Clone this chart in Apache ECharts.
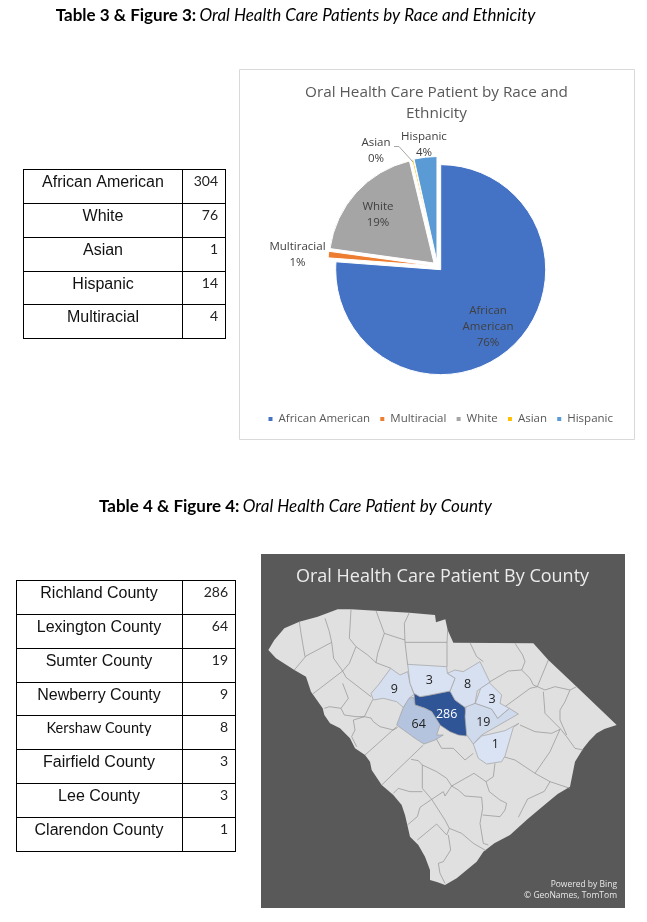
<!DOCTYPE html>
<html>
<head>
<meta charset="utf-8">
<title>Oral Health Care Patients</title>
<script src="https://cdn.jsdelivr.net/npm/echarts@6/dist/echarts.min.js"></script>
<style>
html,body{margin:0;padding:0;background:#fff}
#chart{width:647px;height:922px}
</style>
</head>
<body>
<div id="chart"></div>
<script>
// ---------- data ----------
const raceTableNames = ['African American', 'White', 'Asian', 'Hispanic', 'Multiracial'];
const raceTableValues = [304, 76, 1, 14, 4];
const raceChartOrder = ['African American', 'Multiracial', 'White', 'Asian', 'Hispanic'];
const raceColors = ['#4472c4', '#ed7d31', '#a5a5a5', '#ffc000', '#5b9bd5'];
const countyNames = ['Richland County', 'Lexington County', 'Sumter County', 'Newberry County', 'Kershaw County', 'Fairfield County', 'Lee County', 'Clarendon County'];
const countyValues = [286, 64, 19, 9, 8, 3, 3, 1];

const shift = (dx, dy, lines) => lines.map(l => l.map(p => [p[0] + dx, p[1] + dy]));
const stateOutline = [[22,288],[40,258],[70,223],[115,203],[170,188],[230,166],[270,166],[345,170],[445,176],[522,183],[525,205],[553,196],[560,228],[577,266],[817,268],[862,318],[947,398],[1067,513],[1030,525],[1007,538],[985,560],[967,583],[942,623],[927,698],[890,720],[860,745],[800,795],[747,843],[700,868],[667,893],[647,923],[587,973],[552,993],[530,985],[507,978],[507,948],[492,908],[472,873],[447,848],[439,813],[432,783],[422,753],[397,723],[362,693],[332,648],[327,623],[312,603],[282,583],[267,553],[237,523],[207,508],[190,483],[185,463],[150,413],[135,368],[100,348],[45,313],[22,288]];
const countyLines = [].concat(
  shift(0, 138, [
    [[115,65],[120,100],[125,130],[132,170]],
    [[100,210],[135,168],[212,127]],
    [[192,55],[205,95],[212,127],[218,175],[245,213]],
    [[245,213],[155,282]],
    [[270,28],[265,115],[285,140],[265,190],[245,213]],
    [[285,140],[320,165],[345,188],[390,205]],
    [[345,32],[370,100],[350,160],[345,188]],
    [[445,38],[430,70],[432,127],[440,195]],
    [[370,100],[400,110],[432,120]],
    [[245,213],[255,232],[330,290]],
    [[245,250],[262,295],[240,325],[205,320],[190,325]],
    [[240,325],[250,345],[285,350],[310,350]]
  ]),
  [
    [[310,488],[335,437]],
    [[277,498],[282,528],[272,548],[287,578]],
    [[310,488],[277,498]],
    [[310,488],[330,492],[337,503],[357,518],[397,528],[410,520]],
    [[312,603],[407,518]],
    [[362,693],[487,573]],
    [[432,265],[558,265]],
    [[560,228],[558,265],[558,338]],
    [[867,683],[850,712],[800,735],[772,790]]
  ],
  shift(567, 198, [
    [[60,68],[80,110],[100,125]],
    [[120,185],[175,153],[215,150],[240,175],[250,195],[262,200]],
    [[195,70],[218,105],[225,125],[215,150]],
    [[295,120],[262,200]],
    [[262,200],[240,205],[165,260]],
    [[262,200],[285,210],[315,200],[360,210],[380,200]],
    [[280,215],[285,280],[330,325],[350,350],[375,385],[400,390]],
    [[360,210],[345,245],[330,270],[330,300],[350,345]],
    [[330,328],[305,340],[255,335],[210,315]],
    [[330,328],[300,395],[255,460],[300,485],[360,505]],
    [[160,410],[195,420],[255,460]],
    [[135,430],[130,470],[108,485]]
  ]),
  shift(207, 498, [
    [[243,118],[265,122],[277,135],[320,155],[350,175],[365,198]],
    [[277,135],[277,205],[305,238]],
    [[190,220],[205,205],[240,215],[277,215]],
    [[305,238],[270,262],[262,290],[232,315]],
    [[305,238],[345,300],[358,325],[350,345],[320,312],[262,360]],
    [[355,345],[362,390],[340,425],[325,430],[330,460],[345,490]],
    [[358,325],[395,340],[430,370],[468,392]],
    [[305,238],[340,215],[345,228],[365,198],[432,160],[468,185]],
    [[365,198],[385,210],[405,228],[455,232],[458,265],[450,310],[460,370],[475,375]],
    [[468,185],[478,215],[510,240],[530,250],[525,270],[510,290],[458,285]],
    [[318,55],[335,85],[370,85],[405,120],[430,100]]
  ])
);
const z5 = l => shift(297, 288, [l])[0];
const z8 = l => shift(567, 198, [l])[0];
const countyShapes = {
  'Newberry County': z5([[33,130],[55,105],[92,55],[120,75],[143,65],[150,100],[162,133],[147,145],[130,172],[110,155],[70,145],[40,150]]),
  'Fairfield County': z5([[143,43],[260,50],[262,70],[285,85],[270,123],[205,136],[180,140],[162,130],[150,100]]),
  'Richland County': z5([[162,130],[180,140],[205,136],[270,123],[285,150],[315,172],[318,200],[320,258],[295,255],[270,245],[240,225],[215,185],[195,175],[165,165]]),
  'Lexington County': z5([[160,142],[165,165],[195,175],[215,185],[240,225],[230,255],[250,255],[225,270],[192,282],[165,265],[110,225],[130,172],[145,145]]),
  'Kershaw County': z5([[262,70],[285,60],[310,65],[360,35],[390,97],[352,122],[345,160],[315,172],[285,150],[270,123],[285,85]]),
  'Lee County': z8([[118,188],[155,225],[150,250],[178,265],[143,295],[125,267],[76,250],[92,205]]),
  'Sumter County': z8([[48,257],[76,250],[125,267],[143,295],[178,265],[205,282],[95,345],[70,372],[50,345],[45,290]]),
  'Clarendon County': z8([[70,372],[95,348],[165,332],[207,310],[190,322],[165,408],[155,425],[110,432],[85,415]])
};
const labelAnchors = {
  'Richland County': [557,480], 'Lexington County': [473,510], 'Sumter County': [667,504], 'Newberry County': [400,405],
  'Kershaw County': [620,390], 'Fairfield County': [505,378], 'Lee County': [693,437], 'Clarendon County': [703,570]
};

const closeRing = r => r.concat([r[0]]);
const scGeo = {
  type: 'FeatureCollection',
  features: [
    { type: 'Feature', properties: { name: 'South Carolina' }, geometry: { type: 'Polygon', coordinates: [stateOutline] } },
    { type: 'Feature', properties: { name: 'County lines' }, geometry: { type: 'MultiLineString', coordinates: countyLines } }
  ].concat(countyNames.map(n => ({
    type: 'Feature',
    properties: { name: n, cp: labelAnchors[n] },
    geometry: { type: 'Polygon', coordinates: [closeRing(countyShapes[n])] }
  })))
};
echarts.registerMap('sc', scGeo);

// ---------- drawing ----------
const pieLabelSpots = {
  'African American': [488, 327], 'Multiracial': [297.5, 255], 'White': [378, 215], 'Asian': [376, 151], 'Hispanic': [424, 145]
};
const raceValue = n => raceTableValues[raceTableNames.indexOf(n)];
const lineStyle = { stroke: '#000', lineWidth: 1 };
const graphics = [];
const addLine = (x1, y1, x2, y2) => graphics.push({ type: 'line', shape: { x1, y1, x2, y2 }, style: lineStyle, silent: true });
const addText = (o) => graphics.push(Object.assign({ type: 'text', silent: true }, o));

function drawTable(x0, xm, x1, rowLines, names, values, numRight, centerX, calibriRow) {
  rowLines.forEach(y => addLine(x0, y, x1, y));
  [x0, xm, x1].forEach(x => addLine(x, rowLines[0] - 0.5, x, rowLines[rowLines.length - 1] + 0.5));
  names.forEach((n, i) => {
    const y = rowLines[i] + 11.5;
    addText({ style: { text: n, x: centerX, y: y + 1.5, align: 'center', verticalAlign: 'middle', fill: '#111',
      font: n === calibriRow ? '14.5px Lato' : '16px "Liberation Sans"' } });
    addText({ style: { text: String(values[i]), x: numRight, y, align: 'right', verticalAlign: 'middle', fill: '#222', font: '14px Lato' } });
  });
}
drawTable(23.5, 182.5, 225.5, [169.5, 203.5, 237.5, 271.5, 304.5, 338.5], raceTableNames, raceTableValues, 218, 103);
drawTable(16.5, 182.5, 235.5, [580.5, 614.5, 648.5, 682.5, 715.5, 749.5, 783.5, 817.5, 851.5], countyNames, countyValues, 228, 99, 'Kershaw County');

function heading(bold, italic, cx, y) {
  addText({ style: { text: '{b|' + bold + '} {i|' + italic + '}', x: cx, y, align: 'center', verticalAlign: 'middle',
    rich: { b: { font: 'bold 17px Lato', fill: '#000' }, i: { font: 'italic 17px Lato', fill: '#000' } } } });
}
heading('Table 3 & Figure 3:', 'Oral Health Care Patients by Race and Ethnicity', 295.5, 16);
heading('Table 4 & Figure 4:', 'Oral Health Care Patient by County', 295.5, 507);

graphics.push({ type: 'rect', z: 0, silent: true, shape: { x: 239.5, y: 69.5, width: 395, height: 370 }, style: { fill: '#fff', stroke: '#d9d9d9', lineWidth: 1 } });
graphics.push({ type: 'rect', z: 0, silent: true, shape: { x: 261, y: 554, width: 364, height: 354 }, style: { fill: '#595959' } });
addText({ z: 10, style: { text: 'Powered by Bing', x: 617, y: 885, align: 'right', verticalAlign: 'middle', fill: '#e8e8e8', font: '8.5px "Open Sans"' } });
addText({ z: 10, style: { text: '© GeoNames, TomTom', x: 617, y: 896, align: 'right', verticalAlign: 'middle', fill: '#e8e8e8', font: '8.5px "Open Sans"' } });

const chart = echarts.init(document.getElementById('chart'));
chart.setOption({
  animation: false,
  backgroundColor: '#fff',
  title: [
    { text: 'Oral Health Care Patient by Race and\nEthnicity', left: 431.5, top: 77, textAlign: 'center',
      textStyle: { fontFamily: 'Open Sans', fontWeight: 'normal', fontSize: 15.3, color: '#595959', lineHeight: 21 } },
    { text: 'Oral Health Care Patient By County', left: 437.5, top: 559, textAlign: 'center',
      textStyle: { fontFamily: 'Open Sans', fontWeight: 'normal', fontSize: 18, color: '#ececec', lineHeight: 26 } }
  ],
  legend: {
    left: 261.5, top: 408, icon: 'rect', itemWidth: 6, itemHeight: 6, itemGap: 8.2, selectedMode: false,
    data: raceChartOrder,
    textStyle: { fontFamily: 'Open Sans', fontSize: 11.5, color: '#595959' }
  },
  visualMap: {
    show: false, type: 'continuous', seriesIndex: 2, min: 1, max: 286,
    inRange: { color: ['#dae3f3', '#2f5597'] }
  },
  series: [
    {
      // the slices, pulled apart
      type: 'pie', center: [437.5, 266.2], radius: [0, 105], startAngle: 90, clockwise: true,
      selectedMode: 'multiple', selectedOffset: 4.7, percentPrecision: 0, silent: true,
      itemStyle: { borderColor: '#fff', borderWidth: 1 },
      label: { show: false }, labelLine: { show: false },
      data: raceChartOrder.map((n, i) => ({ name: n, value: raceValue(n), selected: true, itemStyle: { color: raceColors[i] } }))
    },
    {
      // invisible twin that carries the data labels, above the slices
      type: 'pie', z: 6, center: [437.5, 266.2], radius: [0, 105], startAngle: 90, clockwise: true,
      percentPrecision: 0, avoidLabelOverlap: false, minShowLabelAngle: 0, silent: true, legendHoverLink: false,
      itemStyle: { color: 'rgba(0,0,0,0)' },
      label: {
        show: true, position: 'outside', fontFamily: 'Open Sans', fontSize: 11.5, color: '#404040', lineHeight: 16,
        formatter: p => (p.name === 'African American' ? 'African\nAmerican' : p.name) + '\n' + p.percent + '%'
      },
      labelLine: { show: false },
      labelLayout: p => {
        const n = raceChartOrder[p.dataIndex];
        const s = pieLabelSpots[n];
        const out = { x: s[0], y: s[1], align: 'center', verticalAlign: 'middle' };
        if (n === 'Asian') out.labelLinePoints = [[413, 162], [399, 146.5], [394, 146.5]];
        return out;
      },
      data: raceChartOrder.map(n => ({
        name: n, value: raceValue(n),
        labelLine: n === 'Asian' ? { show: true, lineStyle: { color: '#a6a6a6', width: 1 } } : undefined
      }))
    },
    {
      type: 'map', map: 'sc', roam: false, silent: true, showLegendSymbol: false,
      projection: { project: p => p, unproject: p => p },
      left: 261 + 22 / 3, top: 554 + 166 / 3, width: 1045 / 3, height: 827 / 3,
      itemStyle: { areaColor: '#e0e0e0', borderColor: '#a0a0a0', borderWidth: 0.7 },
      label: { show: true, fontFamily: 'Open Sans', fontSize: 12.5, color: '#222', formatter: p => isNaN(p.value) ? '' : String(p.value) },
      data: [
        { name: 'South Carolina', itemStyle: { borderWidth: 0 } },
        { name: 'County lines', itemStyle: { areaColor: 'none', borderColor: '#929292', borderWidth: 0.7 } }
      ].concat(countyNames.map((n, i) => ({
        name: n, value: countyValues[i],
        label: n === 'Richland County' ? { color: '#fff' } : undefined
      })))
    }
  ],
  graphic: { elements: graphics }
});
</script>
</body>
</html>
